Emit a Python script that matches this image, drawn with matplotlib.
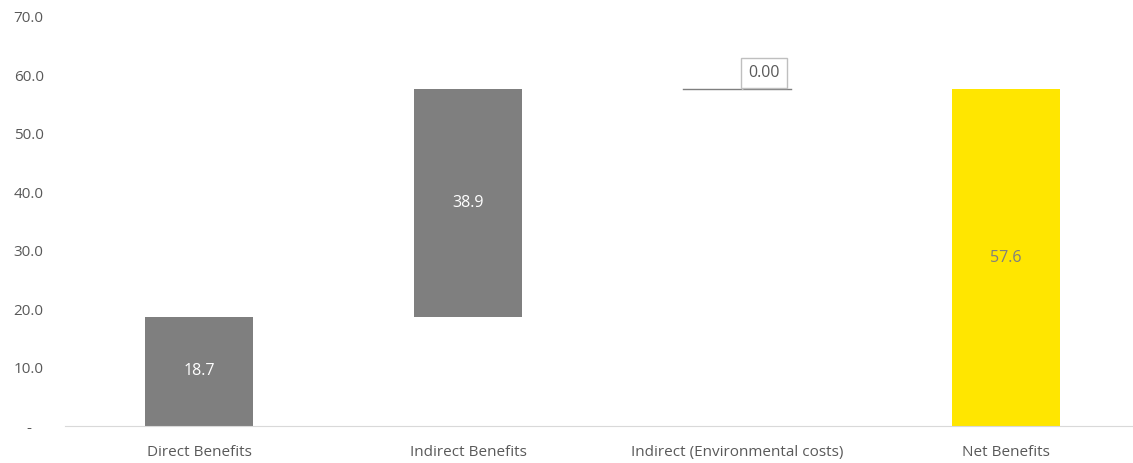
import matplotlib
matplotlib.use("Agg")
import matplotlib.pyplot as plt
import numpy as np

categories = ["Direct Benefits", "Indirect Benefits", "Indirect (Environmental costs)", "Net Benefits"]
deltas = [18.7, 38.9, 0.0]
net_total = 57.6
labels = ["18.7", "38.9", "0.00", "57.6"]
yticks = [0, 10, 20, 30, 40, 50, 60, 70]
ytick_labels = ["-   ", "10.0", "20.0", "30.0", "40.0", "50.0", "60.0", "70.0"]

plt.rcParams['font.family'] = ['Open Sans', 'DejaVu Sans']

fig = plt.figure(figsize=(11.33, 4.63), dpi=100)
ax = fig.add_axes([64.5/1133, 37/463, 1076/1133, (426-17)/463])

gray = "#7f7f7f"
yellow = "#FFE600"
txt = "#595959"

x = np.arange(len(categories))
bottoms = np.concatenate([[0], np.cumsum(deltas)[:-1]])
heights = list(deltas) + [net_total]
bots = list(bottoms) + [0]
colors = [gray, gray, gray, yellow]
w = 0.4

for i in range(len(categories)):
    if heights[i] == 0:
        ax.plot([x[i] - w/2, x[i] + w/2], [bots[i], bots[i]], color=gray, lw=1)
    else:
        ax.bar(x[i], heights[i], bottom=bots[i], width=w, color=colors[i])

# labels
for i in range(len(categories)):
    if i == 2:
        ax.annotate(labels[i], xy=(x[i] + 0.02, bots[i]), xytext=(x[i] + 0.1, bots[i] + 2.8),
                    ha="center", va="center", fontsize=11.5, color=txt,
                    bbox=dict(boxstyle="square,pad=0.45", fc="white", ec="#bfbfbf", lw=1),
                    arrowprops=dict(arrowstyle="-", color="#bfbfbf", lw=1))
    else:
        c = "white" if colors[i] == gray else "#7f7f7f"
        ax.text(x[i], bots[i] + heights[i] / 2, labels[i], ha="center", va="center",
                fontsize=11.5, color=c)

ax.set_xlim(-0.5, 3.5)
ax.set_ylim(0, 70)
ax.set_yticks(yticks)
ax.set_yticklabels(ytick_labels)
ax.set_xticks(x)
ax.set_xticklabels(categories)
for s in ["top", "right", "left"]:
    ax.spines[s].set_visible(False)
ax.spines["bottom"].set_color("#d9d9d9")
ax.tick_params(axis="both", length=0, labelsize=11, colors=txt)
ax.tick_params(axis="y", pad=15)
ax.tick_params(axis="x", pad=14)

fig.savefig("out.png", dpi=100)
